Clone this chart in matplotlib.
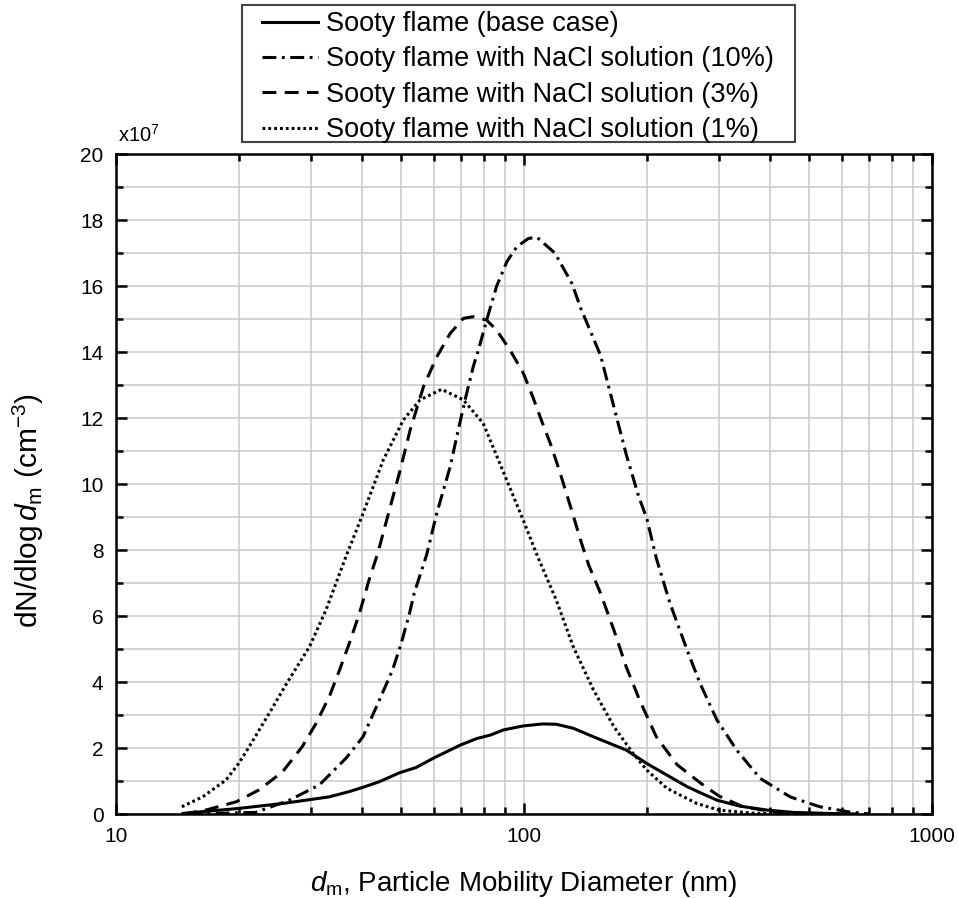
import matplotlib
matplotlib.use("Agg")
import matplotlib.pyplot as plt
from matplotlib import ticker
from matplotlib.patches import Rectangle

plt.rcParams["font.family"] = ["Liberation Sans", "DejaVu Sans"]
plt.rcParams["mathtext.fontset"] = "custom"
plt.rcParams["mathtext.rm"] = "Liberation Sans"
plt.rcParams["mathtext.it"] = "Liberation Sans:italic"
plt.rcParams["lines.scale_dashes"] = False

# size distributions, dN/dlog dm in units of 1e7 cm^-3
base_d = [14.6, 20, 25.6, 30, 33.3, 37.3, 40.3, 44.2, 49.5, 54.4, 59.9, 69.8, 76.7, 82.6,
          89.1, 99.6, 111, 120, 132, 148, 166, 178, 200, 224, 251, 270, 297, 338, 394, 457,
          550, 655]
base_n = [0.02, 0.17, 0.32, 0.44, 0.52, 0.68, 0.81, 0.98, 1.25, 1.41, 1.69, 2.09, 2.29, 2.39,
          2.55, 2.67, 2.73, 2.72, 2.60, 2.34, 2.09, 1.94, 1.53, 1.18, 0.83, 0.65, 0.42, 0.24,
          0.12, 0.05, 0.02, 0.0]

nacl10_d = [15, 22, 26.6, 31.5, 36.6, 40.3, 44.2, 47.6, 50, 52.4, 53.8, 57.7, 61.1, 65.9,
            68.4, 71.7, 75.1, 77.3, 81.0, 85.7, 90.8, 96.0, 102.5, 107.5, 119, 131, 138, 154,
            162, 178, 191, 200, 211, 228, 251, 270, 297, 332, 379, 449, 531, 622, 705]
nacl10_n = [0.0, 0.05, 0.42, 0.88, 1.69, 2.34, 3.45, 4.36, 5.17, 6.08, 6.69, 7.85, 9.11, 10.52,
            11.43, 12.55, 13.56, 14.06, 14.97, 16.0, 16.74, 17.19, 17.44, 17.48, 17.0, 16.08,
            15.3, 13.9, 12.85, 10.9, 9.62, 8.95, 7.75, 6.38, 4.97, 3.96, 2.85, 1.94, 1.08,
            0.52, 0.22, 0.07, 0.0]

nacl3_d = [14.6, 16.6, 19.7, 22.4, 25.6, 28.6, 30.9, 33.3, 35.3, 37.3, 39.5, 41.7, 43.8, 47.0,
           49.7, 52.6, 56.7, 61.1, 65.9, 71.0, 75.0, 80.9, 85.6, 92.4, 99.6, 105, 111, 116,
           122, 127, 133, 138, 144, 154, 166, 178, 192, 211, 237, 270, 300, 344, 408, 500]
nacl3_n = [0.0, 0.12, 0.37, 0.73, 1.28, 2.04, 2.74, 3.55, 4.36, 5.17, 6.08, 7.09, 7.9, 9.31,
           10.42, 11.64, 12.95, 13.85, 14.56, 15.02, 15.07, 14.97, 14.67, 14.06, 13.36, 12.65,
           11.84, 11.23, 10.42, 9.72, 8.91, 8.25, 7.55, 6.69, 5.58, 4.46, 3.45, 2.34, 1.5, 0.95,
           0.55, 0.22, 0.07, 0.0]

nacl1_d = [14.5, 16.3, 18.6, 20, 21.2, 24.0, 26.2, 29.8, 32.7, 36.6, 40.0, 45.2, 50.6, 55.6,
           62.8, 71.0, 79.4, 87.4, 99.6, 108, 120, 132, 148, 166, 185, 200, 224, 265, 300, 360,
           450]
nacl1_n = [0.22, 0.52, 1.03, 1.54, 2.04, 3.15, 3.96, 5.07, 6.18, 7.8, 9.0, 10.73, 11.94, 12.55,
           12.87, 12.55, 11.84, 10.6, 8.9, 7.8, 6.48, 5.07, 3.76, 2.65, 1.84, 1.33, 0.78, 0.32,
           0.12, 0.03, 0.0]

labels = [
    "Sooty flame (base case)",
    "Sooty flame with NaCl solution (10%)",
    "Sooty flame with NaCl solution (3%)",
    "Sooty flame with NaCl solution (1%)",
]

W, H = 958, 898
fig = plt.figure(figsize=(W / 100, H / 100), dpi=100)
ax = fig.add_axes([0.1211, 0.0935, 0.8518, 0.735])

lw = 2.2
ax.plot(base_d, base_n, color="black", lw=lw, label=labels[0])
ax.plot(nacl10_d, nacl10_n, color="black", lw=lw, linestyle=(0, (10, 4, 2, 4)), label=labels[1])
ax.plot(nacl3_d, nacl3_n, color="black", lw=lw, linestyle=(0, (10, 6)), label=labels[2])
ax.plot(nacl1_d, nacl1_n, color="black", lw=lw, linestyle=(0, (2.0, 2.2)), label=labels[3])

ax.set_xscale("log")
ax.set_xlim(10, 1000)
ax.set_ylim(0, 20)
ax.xaxis.set_major_locator(ticker.LogLocator(base=10, numticks=5))
ax.xaxis.set_minor_locator(ticker.LogLocator(base=10, subs=range(2, 10), numticks=20))
ax.xaxis.set_major_formatter(ticker.FuncFormatter(lambda v, _: f"{v:g}"))
ax.xaxis.set_minor_formatter(ticker.NullFormatter())
ax.yaxis.set_major_locator(ticker.MultipleLocator(2))
ax.yaxis.set_minor_locator(ticker.MultipleLocator(1))

ax.grid(True, which="both", color="#c8c8c8", lw=1.1)
ax.set_axisbelow(True)
ax.tick_params(which="both", direction="in", top=True, right=True, width=1.8, labelsize=15, pad=9)
ax.tick_params(which="major", length=8)
ax.tick_params(which="minor", length=5)
for sp in ax.spines.values():
    sp.set_linewidth(1.8)

ax.set_xlabel(r"$d_{\mathrm{m}}$, Particle Mobility Diameter (nm)", fontsize=20, labelpad=17)
ax.set_ylabel(r"dN/dlog$\,d_{\mathrm{m}}$ (cm$^{-3}$)", fontsize=21.5)
ax.yaxis.set_label_coords(-0.086, 0.46)
ax.text(0.003, 1.012, r"x10$^{7}$", transform=ax.transAxes, fontsize=14.5, ha="left", va="bottom")

# legend entries without their own frame, boxed by a fixed rectangle above the axes
leg = fig.legend(loc="upper left", bbox_to_anchor=(262 / W, 1 - 11 / H), fontsize=19.5,
                 frameon=False, handlelength=2.07, handletextpad=0.3,
                 labelspacing=0.35, borderpad=0, borderaxespad=0)
fig.patches.append(Rectangle((242 / W, 1 - 142 / H), 553 / W, 137 / H,
                             transform=fig.transFigure, fill=False,
                             edgecolor="#444444", linewidth=1.5))

fig.savefig("out.png", dpi=100)
